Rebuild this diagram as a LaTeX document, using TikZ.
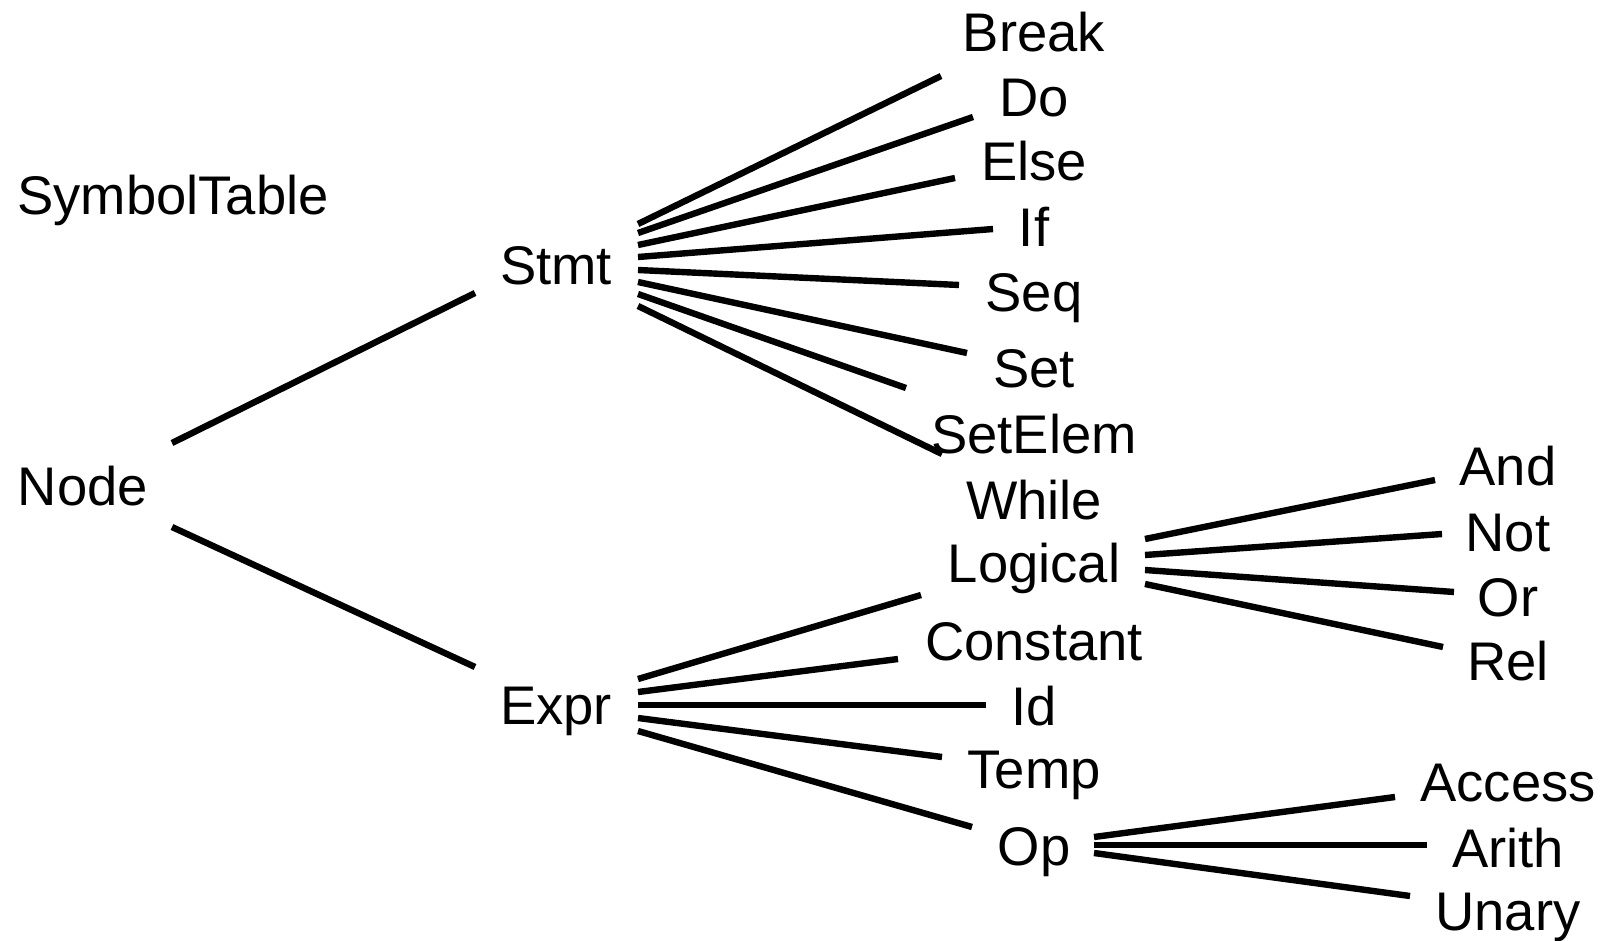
\documentclass[tikz,border=0pt]{standalone}
\usepackage{fontspec}
\setmainfont{Liberation Sans}
\usetikzlibrary{calc}

\begin{document}
\begin{tikzpicture}[x=0.5pt, y=-0.5pt,
    lbl/.style={anchor=base, inner sep=0pt, font=\fontsize{27.2}{32}\selectfont},
    edge/.style={line width=3.2pt}]
    \useasboundingbox (0,0) rectangle (1615,941);

    % Top level
    \node[lbl] (SymbolTable) at (173,214) {SymbolTable};
    \node[lbl] (Node) at (83,505) {Node};
    \node[lbl] (Stmt) at (556,285) {Stmt};
    \node[lbl] (Expr) at (556,724) {Expr};
    \draw[edge] ($(Node.base)+(89,-62)$) -- ($(Stmt.base)+(-81,8)$);
    \draw[edge] ($(Node.base)+(89,22)$) -- ($(Expr.base)+(-81,-57)$);

    % Statements
    \foreach \name/\ty/\sy/\dx/\dy in {Break/52/-61/-93/24, Do/117/-52/-61/0,
        Else/181/-40/-79/-3, If/247/-28/-41/-18, Seq/311/-15/-75/-26,
        Set/387/-3/-67/-34, SetElem/453/9/-128/-65, While/519/21/-92/-65} {
        \node[lbl] (\name) at (1034,\ty) {\name};
        \draw[edge] ($(Stmt.base)+(82,\sy)$) -- ($(\name.base)+(\dx,\dy)$);
    }

    % Expressions
    \foreach \name/\ty/\sy/\dx/\dy in {Logical/582/-45/-113/13, Constant/660/-32/-136/-1,
        Id/725/-19/-48/-20, Temp/788/-6/-92/-31, Op/865/7/-62/-38} {
        \node[lbl] (\name) at (1034,\ty) {\name};
        \draw[edge] ($(Expr.base)+(82,\sy)$) -- ($(\name.base)+(\dx,\dy)$);
    }

    % Logical
    \foreach \name/\ty/\sy/\dx/\dy in {And/485/-43/-73/-5, Not/551/-27/-66/-17,
        Or/616/-12/-54/-24, Rel/680/2/-65/-33} {
        \node[lbl] (\name) at (1508,\ty) {\name};
        \draw[edge] ($(Logical.base)+(111,\sy)$) -- ($(\name.base)+(\dx,\dy)$);
    }

    % Op
    \foreach \name/\ty/\sy/\dx/\dy in {Access/801/-28/-113/-4, Arith/867/-20/-81/-22,
        Unary/930/-12/-98/-34} {
        \node[lbl] (\name) at (1508,\ty) {\name};
        \draw[edge] ($(Op.base)+(60,\sy)$) -- ($(\name.base)+(\dx,\dy)$);
    }
\end{tikzpicture}
\end{document}
